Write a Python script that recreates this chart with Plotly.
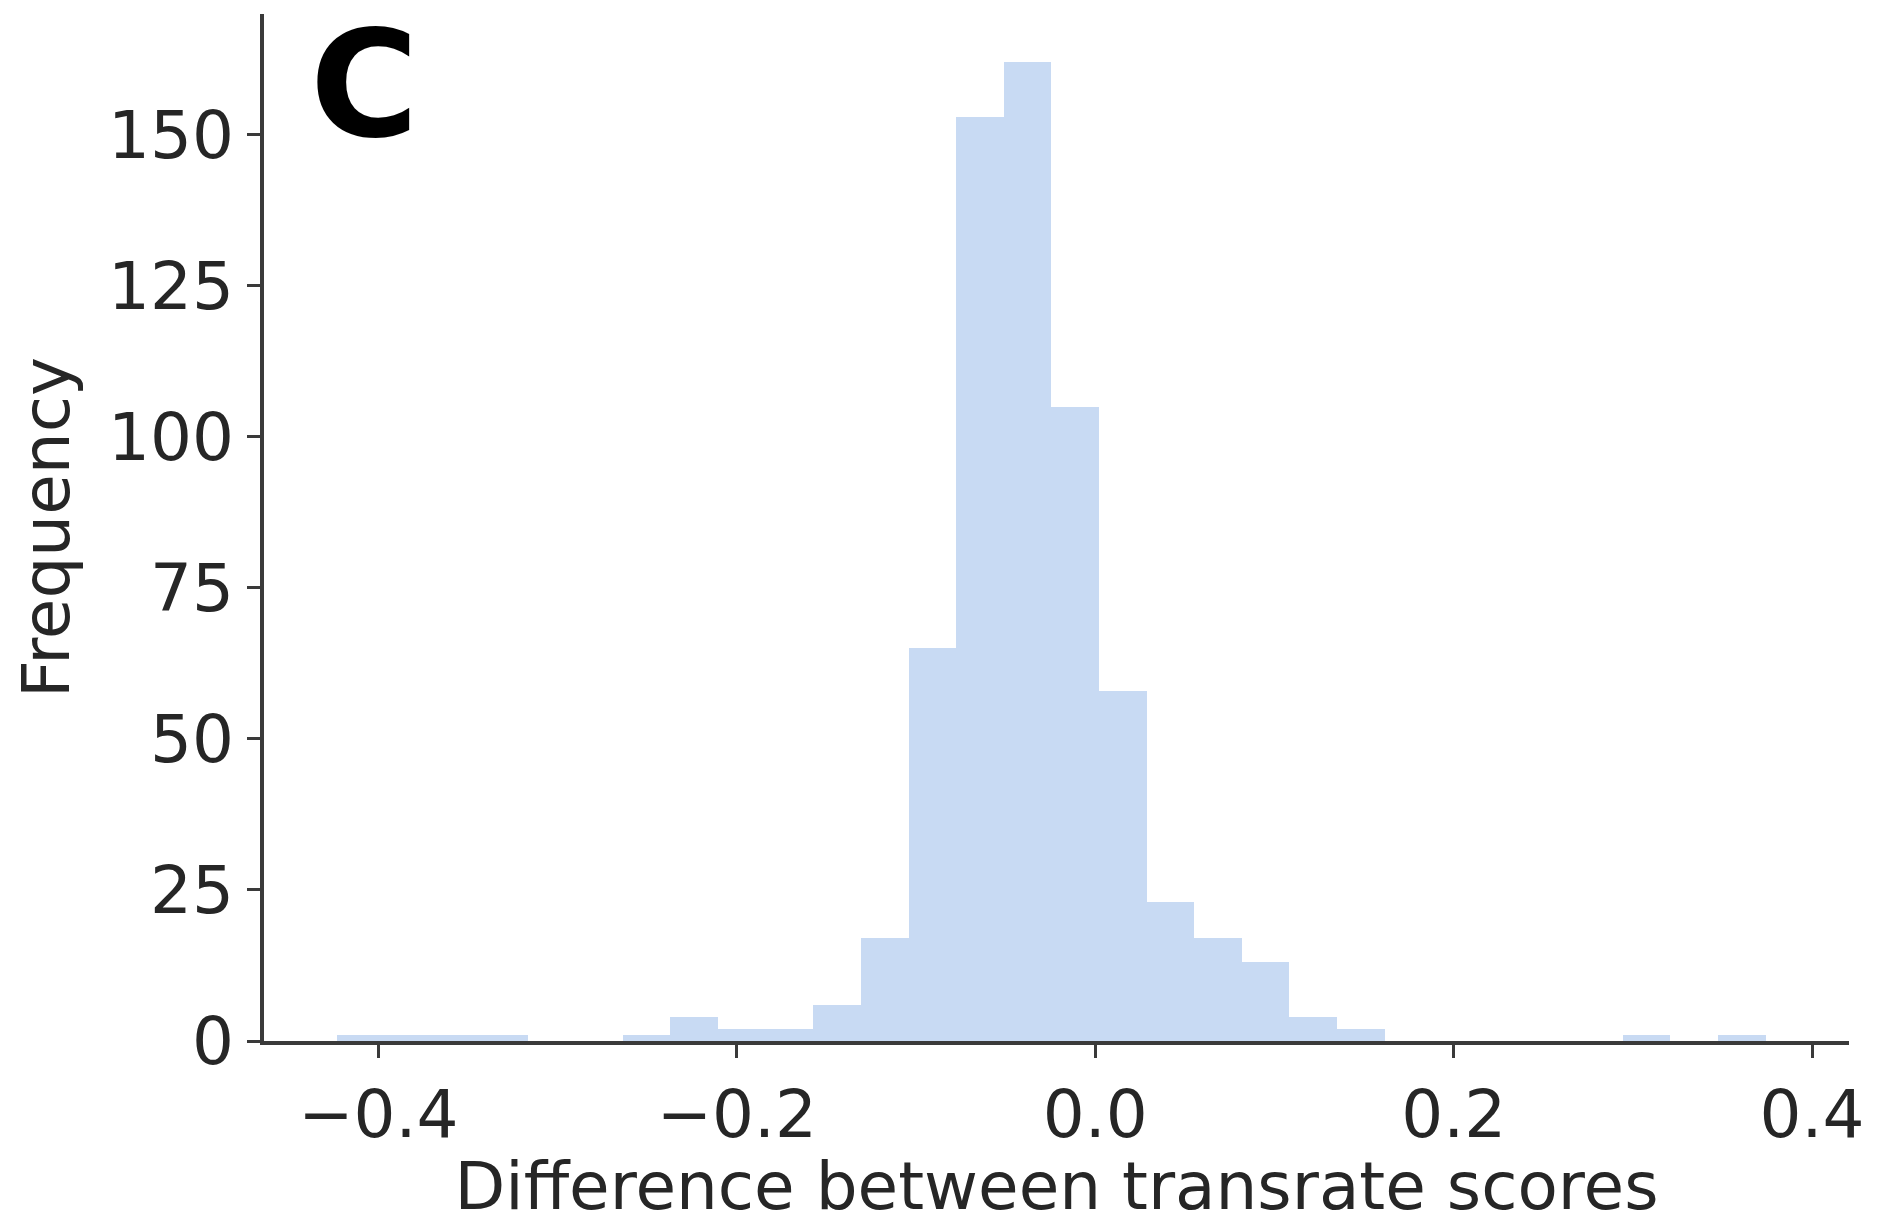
import numpy as np
import plotly.graph_objects as go

# Histogram data (30 equal-width bins)
bin_start = -0.423
bin_width = 0.02657
counts = [1, 1, 1, 1, 0, 0, 1, 4, 2, 2, 6, 17, 65, 153, 162,
          105, 58, 23, 17, 13, 4, 2, 0, 0, 0, 0, 0, 1, 0, 1]

x_tickvals = [-0.4, -0.2, 0.0, 0.2, 0.4]
x_ticktext = ["\u22120.4", "\u22120.2", "0.0", "0.2", "0.4"]
y_tickvals = [0, 25, 50, 75, 100, 125, 150]

x_title = "Difference between transrate scores"
y_title = "Frequency"
panel_label = "C"

centers = bin_start + bin_width * (np.arange(len(counts)) + 0.5)

fig = go.Figure()
fig.add_trace(go.Bar(
    x=centers,
    y=counts,
    width=bin_width,
    marker=dict(color="#c8daf3", line=dict(width=0)),
    hoverinfo="x+y",
))

font_family = "DejaVu Sans"
txt_color = "#262626"
axis_color = "#3a3a3a"
fs = 66

fig.update_layout(
    width=1883,
    height=1225,
    margin=dict(l=264, r=34, t=14, b=181),
    paper_bgcolor="white",
    plot_bgcolor="white",
    bargap=0,
    showlegend=False,
    font=dict(family=font_family, size=fs, color=txt_color),
)

fig.update_xaxes(
    range=[-0.4638, 0.4206],
    tickvals=x_tickvals,
    ticktext=x_ticktext,
    showgrid=False,
    zeroline=False,
    showline=True,
    linecolor=axis_color,
    linewidth=3.5,
    ticks="outside",
    ticklen=13,
    tickwidth=3,
    tickcolor=axis_color,
    tickfont=dict(family=font_family, size=fs, color=txt_color),
    title=dict(text=x_title, font=dict(family=font_family, size=fs, color=txt_color), standoff=14),
)

fig.update_yaxes(
    range=[0, 170],
    tickvals=y_tickvals,
    showgrid=False,
    zeroline=False,
    showline=True,
    linecolor=axis_color,
    linewidth=3.5,
    ticks="outside",
    ticklen=13,
    tickwidth=3,
    tickcolor=axis_color,
    tickfont=dict(family=font_family, size=fs, color=txt_color),
    title=dict(text=y_title, font=dict(family=font_family, size=fs, color=txt_color), standoff=18),
)

fig.add_annotation(
    text="<b>" + panel_label + "</b>",
    xref="paper", yref="paper",
    x=0.028, y=0.931,
    xanchor="left", yanchor="middle",
    showarrow=False,
    font=dict(family=font_family, size=148, color="black"),
)

fig.write_html("out.html")
